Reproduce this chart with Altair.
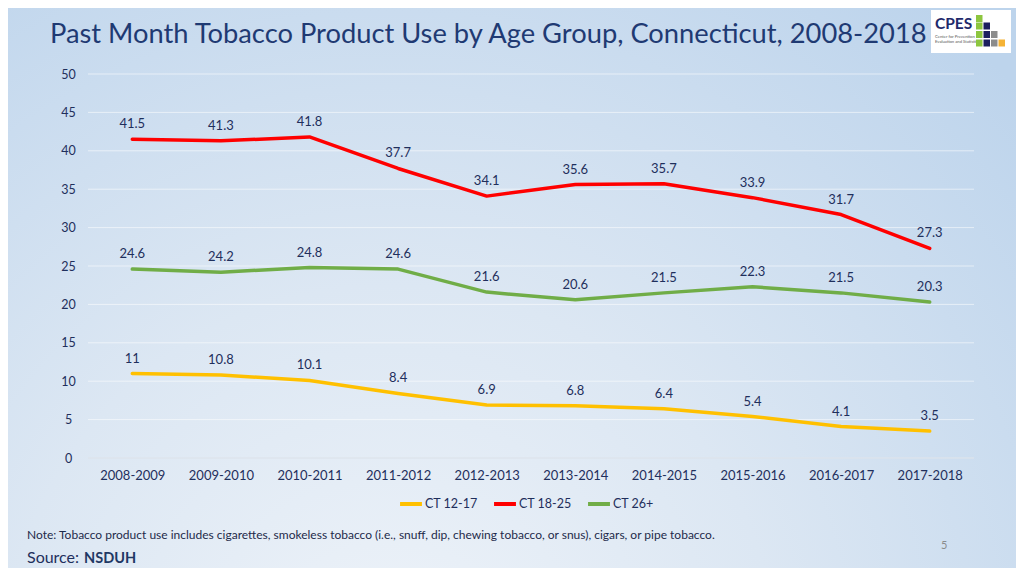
import altair as alt
import pandas as pd

# ---- data ----
periods = ["2008-2009", "2009-2010", "2010-2011", "2011-2012", "2012-2013",
           "2013-2014", "2014-2015", "2015-2016", "2016-2017", "2017-2018"]
ct_12_17 = [11, 10.8, 10.1, 8.4, 6.9, 6.8, 6.4, 5.4, 4.1, 3.5]
ct_18_25 = [41.5, 41.3, 41.8, 37.7, 34.1, 35.6, 35.7, 33.9, 31.7, 27.3]
ct_26_plus = [24.6, 24.2, 24.8, 24.6, 21.6, 20.6, 21.5, 22.3, 21.5, 20.3]
series_names = ["CT 12-17", "CT 18-25", "CT 26+"]
series_colors = ["#FFC000", "#FF0000", "#70AD47"]
y_ticks = [0, 5, 10, 15, 20, 25, 30, 35, 40, 45, 50]

title_text = "Past Month Tobacco Product Use by Age Group, Connecticut, 2008-2018"
note_text = ("Note: Tobacco product use includes cigarettes, smokeless tobacco "
             "(i.e., snuff, dip, chewing tobacco, or snus), cigars, or pipe tobacco.")

rows = []
for name, vals in zip(series_names, [ct_12_17, ct_18_25, ct_26_plus]):
    for i, (p, v) in enumerate(zip(periods, vals)):
        rows.append({"period": p, "series": name, "value": v, "order": i})
df = pd.DataFrame(rows)

NAVY = "#1F2F5C"
FONT = "Lato"
W, H = 886, 384

yscale = alt.Scale(domain=[0, 50], nice=False)
xscale = alt.Scale(type="point", padding=0.5)
x_axis = alt.Axis(labelAngle=0, labelFontSize=13, labelColor=NAVY,
                  labelFont=FONT, labelPadding=11, domain=False,
                  ticks=False, grid=False, zindex=1, title=None)
y_axis = alt.Axis(values=y_ticks, labelFontSize=12.5, labelColor=NAVY,
                  labelFont=FONT, labelPadding=20, labelAlign="center",
                  domain=False, labelOverlap=False, ticks=False, grid=False,
                  zindex=1, title=None)

x_enc = alt.X("period:N", sort=periods, title=None, scale=xscale, axis=x_axis)
y_enc = alt.Y("value:Q", title=None, scale=yscale, axis=y_axis)
color_enc = alt.Color("series:N", sort=series_names,
                      scale=alt.Scale(domain=series_names, range=series_colors),
                      legend=alt.Legend(title=None, orient="none", direction="horizontal",
                                        legendX=310, legendY=417,
                                        symbolType="stroke", symbolSize=480,
                                        symbolStrokeWidth=4, labelFontSize=12.5,
                                        labelColor=NAVY, labelFont=FONT,
                                        labelOffset=1, columnPadding=8))

one = pd.DataFrame({"k": [0]})

# background gradient covering the whole canvas
bg = alt.Chart(one).mark_rect(
    clip=False,
    fill={"gradient": "radial", "x1": 0.38, "y1": 0.88, "r1": 0,
          "x2": 0.38, "y2": 0.88, "r2": 0.85,
          "stops": [{"offset": 0, "color": "#EEF3F9"},
                    {"offset": 0.45, "color": "#DCE7F3"},
                    {"offset": 1, "color": "#BDD4EC"}]}
).encode(x=alt.value(-80), x2=alt.value(928), y=alt.value(-66), y2=alt.value(494))

grid = alt.Chart(pd.DataFrame({"v": y_ticks})).mark_rule(
    color="#FFFFFF", opacity=0.55, strokeWidth=1
).encode(y=alt.Y("v:Q", scale=yscale, axis=y_axis))

zero = alt.Chart(pd.DataFrame({"v": [0]})).mark_rule(
    color="#D4DCE6", strokeWidth=1
).encode(y=alt.Y("v:Q", scale=yscale, axis=y_axis))

lines = alt.Chart(df).mark_line(strokeWidth=3.5, strokeJoin="round", strokeCap="round").encode(
    x=x_enc, y=y_enc, color=color_enc, order="order:Q")

labels = alt.Chart(df).mark_text(dy=-15, baseline="middle", fontSize=13,
                                 font=FONT, color=NAVY).encode(
    x=x_enc, y=y_enc, text=alt.Text("value:Q"))


def txt(text, x, y, size, color, weight="normal", align="left", font=FONT):
    return alt.Chart(one).mark_text(text=text, fontSize=size, color=color,
                                    fontWeight=weight, align=align,
                                    baseline="alphabetic", font=font).encode(
        x=alt.value(x), y=alt.value(y))


title = txt(title_text, -38, -31, 27.3, "#1F3A73")
note = txt(note_text, -61, 465, 12, "#1E2A4A")
source1 = txt("Source:", -61, 489, 16, "#1F2F5C")
source2 = txt("NSDUH", -4, 489, 14.5, "#1F3864", weight="bold")
page = txt("5", 853, 475, 11, "#8C8C8C")

# logo
logo_box = alt.Chart(one).mark_rect(fill="white", clip=False).encode(
    x=alt.value(843), x2=alt.value(923), y=alt.value(-64), y2=alt.value(-21))
logo_name = txt("CPES", 847, -45, 15.5, "#1F2A6B", weight="bold")
logo_sub1 = txt("Center for Prevention", 847, -36, 4.2, "#555555")
logo_sub2 = txt("Evaluation and Statistics", 847, -31, 4.2, "#555555")
sq = pd.DataFrame({
    "x": [888, 888, 895.5, 888, 895.5, 903, 888, 895.5, 903, 910.5],
    "y": [-59, -51.5, -51.5, -43, -43, -43, -34.5, -34.5, -34.5, -34.5],
    "c": ["#8DC63F", "#8DC63F", "#1B1F5E", "#8DC63F", "#1B1F5E", "#8C8C8C",
          "#8DC63F", "#1B1F5E", "#8C8C8C", "#F5B335"],
})
logo_sq = alt.Chart(sq).mark_rect(clip=False).encode(
    x=alt.X("x:Q", scale=None), x2="x2:Q",
    y=alt.Y("y:Q", scale=None), y2="y2:Q",
    color=alt.Color("c:N", scale=None)
).transform_calculate(x2="datum.x + 6.5", y2="datum.y + 7")

chart = alt.layer(
    bg, grid, zero, lines, labels, title, note, source1, source2, page,
    logo_box, logo_name, logo_sub1, logo_sub2, logo_sq
).properties(
    width=W, height=H,
    autosize=alt.AutoSizeParams(type="none"),
    padding={"left": 80, "top": 66, "right": 42, "bottom": 110},
    background="#C9DCEF",
).configure_view(stroke=None).configure_legend(symbolStrokeWidth=4)

chart.save("out.html", embed_options={"renderer": "svg", "actions": False})
